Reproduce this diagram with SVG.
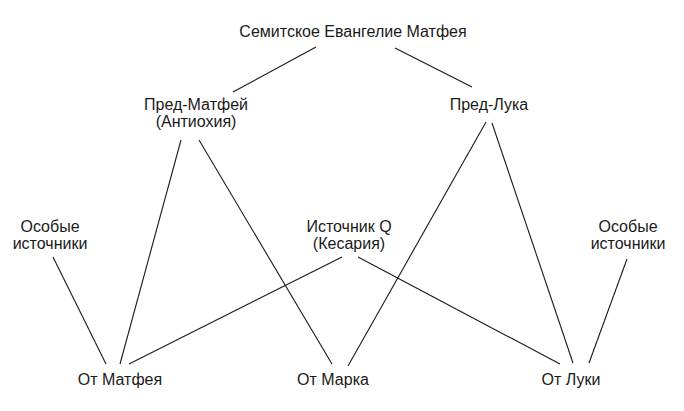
<svg xmlns="http://www.w3.org/2000/svg" width="684" height="411" viewBox="0 0 684 411">
<style>
text{font-family:"Liberation Sans",Arial,Helvetica,sans-serif;font-size:16px;fill:#1a1a1a;text-anchor:middle}
.c line{stroke:#1a1a1a;stroke-width:1.1;fill:none}
</style>
<rect width="684" height="411" fill="#fff"/>
<g class="c" id="connectors">
<line x1="316" y1="47" x2="233" y2="92"/>
<line x1="395" y1="48" x2="472" y2="87"/>
<line x1="181" y1="140" x2="120" y2="364"/>
<line x1="199" y1="140" x2="332" y2="364"/>
<line x1="486" y1="122" x2="348" y2="366"/>
<line x1="492" y1="123" x2="573" y2="363"/>
<line x1="53" y1="257" x2="106" y2="364"/>
<line x1="342" y1="257" x2="129" y2="364"/>
<line x1="358" y1="257" x2="560" y2="364"/>
<line x1="627" y1="259" x2="589" y2="363"/>
</g>
<g id="semitic"><text x="353" y="37">Семитское Евангелие Матфея</text></g>
<g id="pre-matthew"><text x="196" y="110">Пред-Матфей</text><text x="196" y="127">(Антиохия)</text></g>
<g id="pre-luke"><text x="489" y="110">Пред-Лука</text></g>
<g id="special-left"><text x="50" y="232">Особые</text><text x="50" y="249">источники</text></g>
<g id="source-q"><text x="349" y="232">Источник Q</text><text x="349" y="249">(Кесария)</text></g>
<g id="special-right"><text x="628" y="232">Особые</text><text x="628" y="249">источники</text></g>
<g id="matthew"><text x="120" y="385">От Матфея</text></g>
<g id="mark"><text x="333" y="385">От Марка</text></g>
<g id="luke"><text x="571" y="385">От Луки</text></g>
</svg>
